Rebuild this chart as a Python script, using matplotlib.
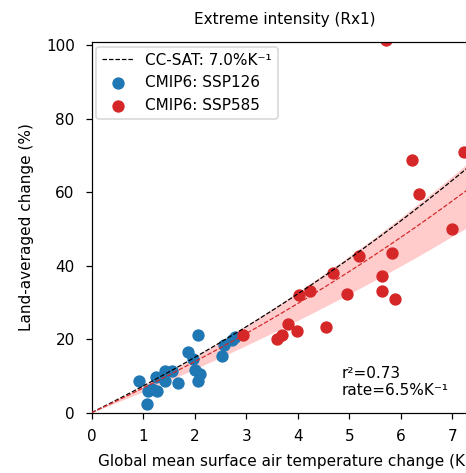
import numpy as np
import matplotlib
matplotlib.use('Agg')
import matplotlib.pyplot as plt

# SSP126 (blue) points: warming (K), land-averaged change (%)
ssp126_dT = [0.92, 1.07, 1.10, 1.17, 1.27, 1.25, 1.42, 1.42, 1.57, 1.67,
             1.88, 2.07, 1.97, 2.01, 2.10, 2.07, 2.56, 2.54, 2.78, 2.72]
ssp126_dP = [8.7, 2.5, 6.0, 6.4, 5.8, 9.8, 11.3, 8.5, 11.3, 8.0,
             16.4, 21.0, 14.6, 11.6, 10.5, 8.7, 18.5, 15.3, 20.5, 19.8]

# SSP585 (red) points
ssp585_dT = [2.93, 3.59, 3.69, 3.82, 3.99, 4.55, 4.03, 4.24, 4.95, 4.68,
             5.18, 5.83, 5.64, 5.63, 5.88, 6.36, 7.00, 6.21, 7.22, 5.71]
ssp585_dP = [21.2, 20.1, 21.0, 24.1, 22.3, 23.3, 31.9, 33.1, 32.2, 37.9,
             42.5, 43.4, 37.1, 33.1, 31.0, 59.6, 50.0, 68.7, 70.9, 101.5]

cc_rate = 7.0      # %/K
fit_rate = 6.5     # %/K
band_rates = (5.6, 7.1)
r2 = 0.73

dpi = 110
fig = plt.figure(figsize=(467 / dpi, 473 / dpi), dpi=dpi)
ax = fig.add_axes([0.196, 0.1275, 0.828, 0.7835])

x = np.linspace(0, 7.5, 200)
ax.fill_between(x, (np.exp(band_rates[0] / 100 * x) - 1) * 100,
                (np.exp(band_rates[1] / 100 * x) - 1) * 100,
                color='#ff9999', alpha=0.5, lw=0, zorder=1)

ax.scatter(ssp126_dT, ssp126_dP, s=50, color='#1f77b4', label='CMIP6: SSP126', zorder=2)
ax.scatter(ssp585_dT, ssp585_dP, s=50, color='#d62728', label='CMIP6: SSP585', zorder=2)

ax.plot(x, (np.exp(cc_rate / 100 * x) - 1) * 100, 'k--', lw=0.8,
        label='CC-SAT: 7.0%K⁻¹', zorder=3)
ax.plot(x, (np.exp(fit_rate / 100 * x) - 1) * 100, '--', color='#d62728', lw=0.8, zorder=3)

ax.text(4.85, 4.8, f'r²={r2}\nrate={fit_rate}%K⁻¹', fontsize=10)

# legend order: line first, then the two scatter groups
h, l = ax.get_legend_handles_labels()
order = [2, 0, 1]
ax.legend([h[i] for i in order], [l[i] for i in order], loc='upper left',
          fontsize=10, borderaxespad=0.3)

ax.set_xlim(0, 7.5)
ax.set_ylim(0, 100.8)
ax.set_xticks(range(0, 8))
ax.set_yticks(range(0, 101, 20))
ax.tick_params(labelsize=10, length=4, pad=7)
ax.set_xlabel('Global mean surface air temperature change (K)', fontsize=10, labelpad=6)
ax.set_ylabel('Land-averaged change (%)', fontsize=10, labelpad=8)
ax.set_title('Extreme intensity (Rx1)', fontsize=10, pad=12)

fig.savefig('out.png', dpi=dpi)
